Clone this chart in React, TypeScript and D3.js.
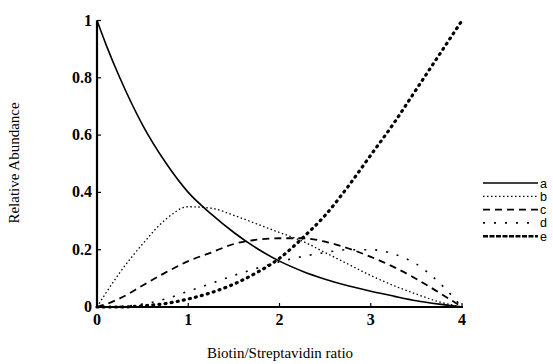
import React from "react";
import * as d3 from "d3";

const xs = [0, 0.1, 0.25, 0.5, 0.75, 1, 1.25, 1.5, 1.75, 2, 2.25, 2.5, 2.75, 3, 3.25, 3.5, 3.75, 4];
const seriesA = [1, 0.915, 0.8, 0.635, 0.505, 0.4, 0.325, 0.26, 0.205, 0.16, 0.125, 0.097, 0.074, 0.055, 0.038, 0.022, 0.01, 0];
const seriesB = [0, 0.05, 0.12, 0.22, 0.305, 0.35, 0.345, 0.32, 0.29, 0.26, 0.23, 0.19, 0.15, 0.11, 0.075, 0.045, 0.018, 0];
const seriesC = [0, 0.01, 0.03, 0.075, 0.12, 0.16, 0.19, 0.22, 0.235, 0.24, 0.24, 0.228, 0.205, 0.175, 0.14, 0.098, 0.05, 0];
const seriesD = [0, 0, 0.002, 0.01, 0.028, 0.055, 0.082, 0.11, 0.135, 0.158, 0.176, 0.19, 0.2, 0.2, 0.185, 0.15, 0.085, 0];
const seriesE = [0, 0, 0, 0.004, 0.012, 0.028, 0.05, 0.08, 0.12, 0.17, 0.24, 0.32, 0.42, 0.53, 0.64, 0.76, 0.88, 1];
const seriesNames = ["a", "b", "c", "d", "e"];
const xTicks = [0, 1, 2, 3, 4];
const yTicks = [0, 0.2, 0.4, 0.6, 0.8, 1];
const yTickLabels = ["0", "0.2", "0.4", "0.6", "0.8", "1"];

const styles = [
  { w: 1.6, dash: "", cap: "butt" },
  { w: 1.3, dash: "1.5 2.5", cap: "butt" },
  { w: 1.8, dash: "7 5", cap: "butt" },
  { w: 1.6, dash: "2 9", cap: "butt" },
  { w: 3.2, dash: "1 5.2", cap: "round" },
];

export default function App() {
  const W = 553, H = 364;
  const x = d3.scaleLinear().domain([0, 4]).range([97, 462]);
  const y = d3.scaleLinear().domain([0, 1]).range([307, 20.5]);
  const all = [seriesA, seriesB, seriesC, seriesD, seriesE];
  const line = d3
    .line<number>()
    .x((_, i) => x(xs[i]))
    .y((v) => y(v))
    .curve(d3.curveMonotoneX);
  const serif = "Liberation Serif, DejaVu Serif, Times New Roman, serif";
  return (
    <svg width={W} height={H} style={{ position: "absolute", left: 0, top: 0, background: "#fff" }}>
      {all.map((s, k) => (
        <path
          key={k}
          d={line(s) || ""}
          fill="none"
          stroke="#000"
          strokeWidth={styles[k].w}
          strokeDasharray={styles[k].dash || undefined}
          strokeLinecap={styles[k].cap as any}
        />
      ))}
      {/* axes */}
      <line x1={x(0)} x2={x(0)} y1={y(0) + 1} y2={y(1)} stroke="#000" strokeWidth={2.2} />
      <line x1={x(0) - 1} x2={x(4) + 1} y1={y(0)} y2={y(0)} stroke="#000" strokeWidth={2.2} />
      {yTicks.map((t, i) => (
        <g key={"y" + i}>
          <line x1={x(0)} x2={x(0) + 4} y1={y(t)} y2={y(t)} stroke="#000" strokeWidth={1.2} />
          <text x={x(0) - 5} y={y(t) + 5} textAnchor="end" fontFamily={serif} fontSize={16} fontWeight="bold" fill="#000">
            {yTickLabels[i]}
          </text>
        </g>
      ))}
      {xTicks.map((t, i) => (
        <g key={"x" + i}>
          <line x1={x(t)} x2={x(t)} y1={y(0)} y2={y(0) - 4} stroke="#000" strokeWidth={1.2} />
          <text x={x(t)} y={y(0) + 18} textAnchor="middle" fontFamily={serif} fontSize={16} fontWeight="bold" fill="#000">
            {t}
          </text>
        </g>
      ))}
      <text x={280} y={358} textAnchor="middle" fontFamily={serif} fontSize={15} fill="#000">
        Biotin/Streptavidin ratio
      </text>
      <text
        transform={`translate(19,${163}) rotate(-90)`}
        textAnchor="middle"
        fontFamily={serif}
        fontSize={15}
        fill="#000"
      >
        Relative Abundance
      </text>
      {/* legend */}
      {seriesNames.map((n, k) => {
        const ly = 183 + k * 13.3;
        return (
          <g key={"l" + k}>
            <line
              x1={483}
              x2={538}
              y1={ly}
              y2={ly}
              stroke="#000"
              strokeWidth={k === 4 ? 2.4 : styles[k].w}
              strokeDasharray={k === 4 ? "5 1.5" : styles[k].dash || undefined}
              strokeLinecap="butt"
            />
            <text x={540} y={ly + 4.5} fontFamily="Liberation Sans, Arial, sans-serif" fontSize={12.5} fill="#000">
              {n}
            </text>
          </g>
        );
      })}
    </svg>
  );
}
